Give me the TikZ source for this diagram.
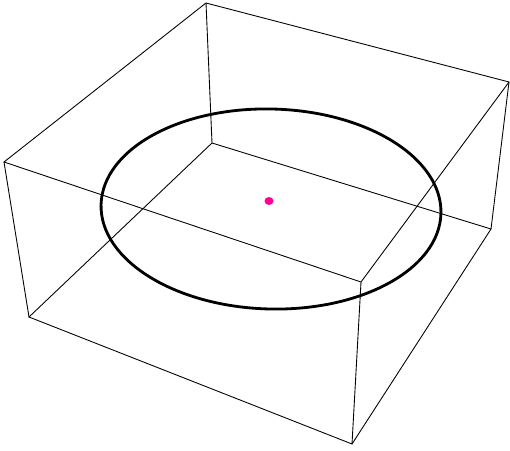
\documentclass[tikz,border=0pt]{standalone}
\definecolor{dotpink}{RGB}{255,0,150}
\tikzset{edge/.style={line width=0.5pt},
  ring/.style={line width=1.6pt}}
\begin{document}
\begin{tikzpicture}[x=0.02cm,y=-0.02cm]
\useasboundingbox (0,0) rectangle (510,450);

\coordinate (topback) at (206,3);
\coordinate (topright) at (509,82);
\coordinate (topfront) at (361,282);
\coordinate (topleft) at (4,162);
\coordinate (botback) at (212,143);
\coordinate (botright) at (491,229);
\coordinate (botfront) at (352,444);
\coordinate (botleft) at (29,317);

\draw[edge] (topback) -- (topright) -- (topfront) -- (topleft) -- cycle;
\draw[edge] (botback) -- (botright) -- (botfront) -- (botleft) -- cycle;
\draw[edge] (topback) -- (botback);
\draw[edge] (topright) -- (botright);
\draw[edge] (topfront) -- (botfront);
\draw[edge] (topleft) -- (botleft);

\draw[ring,rotate around={-1.5:(271,209)}] (271,209) ellipse (170 and 100);
\fill[dotpink] (269,201) ellipse (4.5 and 4);
\end{tikzpicture}
\end{document}
